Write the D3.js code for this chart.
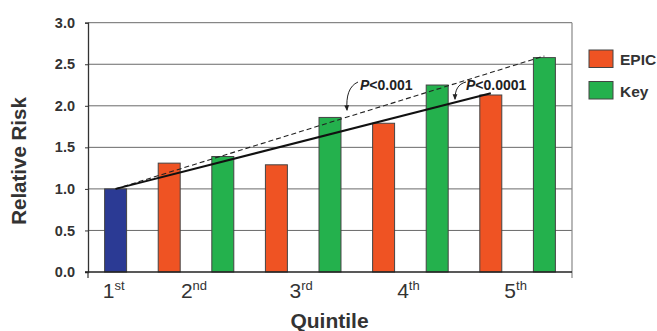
<!DOCTYPE html>
<html><head><meta charset="utf-8">
<script src="https://cdn.jsdelivr.net/npm/d3@7"></script>
<style>body{margin:0;background:#fff}svg{display:block}text{font-family:"Liberation Sans",Arial,sans-serif}</style>
</head><body><svg id="c" width="657" height="331"></svg>
<script>
// Data
const quintiles = ["1", "2", "3", "4", "5"];
const quintileSuffix = ["st", "nd", "rd", "th", "th"];
const barIds = ["Q1", "Q2-EPIC", "Q2-Key", "Q3-EPIC", "Q3-Key", "Q4-EPIC", "Q4-Key", "Q5-EPIC", "Q5-Key"];
const barQuintile = [0, 1, 1, 2, 2, 3, 3, 4, 4];
const barStudy = ["Ref", "EPIC", "Key", "EPIC", "Key", "EPIC", "Key", "EPIC", "Key"];
const barValues = [1.0, 1.31, 1.39, 1.29, 1.86, 1.79, 2.25, 2.13, 2.58];
const yTicks = [0, 0.5, 1.0, 1.5, 2.0, 2.5, 3.0];
const epicTrend = [{bar: "Q1", v: 1.0}, {bar: "Q5-EPIC", v: 2.15}];
const keyTrend = [{bar: "Q1", v: 1.0}, {bar: "Q5-Key", v: 2.6}];
const legendItems = ["EPIC", "Key"];
const pLabels = ["<0.001", "<0.0001"];

const colors = {Ref: "#2B3A94", EPIC: "#EF5323", Key: "#24B14D"};

const svg = d3.select("#c");
const L = 88, R = 572, T = 22.7, B = 272;
const x = d3.scaleBand().domain(barIds).range([L, R]).paddingInner(0.59).paddingOuter(0.31);
const y = d3.scaleLinear().domain([0, 3]).range([B, T]);

// gridlines
svg.append("g").selectAll("line").data(yTicks.filter(d => d > 0)).join("line")
  .attr("x1", L).attr("x2", R).attr("y1", d => y(d)).attr("y2", d => y(d))
  .attr("stroke", "#6a6a6a").attr("stroke-width", 1);
// right border
svg.append("line").attr("x1", R).attr("x2", R).attr("y1", T).attr("y2", B + 6)
  .attr("stroke", "#888").attr("stroke-width", 1.2);

// bars
svg.append("g").selectAll("rect").data(barIds).join("rect")
  .attr("x", d => x(d)).attr("width", x.bandwidth())
  .attr("y", (d, i) => y(barValues[i])).attr("height", (d, i) => y(0) - y(barValues[i]))
  .attr("fill", (d, i) => colors[barStudy[i]])
  .attr("stroke", "#444").attr("stroke-width", 1);

// axes
const yAxis = svg.append("g").attr("transform", `translate(${L},0)`)
  .call(d3.axisLeft(y).tickValues(yTicks).tickFormat(d3.format(".1f")).tickSize(3).tickPadding(10));
yAxis.select(".domain").attr("stroke", "#333").attr("stroke-width", 1.3);
yAxis.selectAll(".tick line").attr("stroke", "#333");
yAxis.selectAll("text").attr("font-size", 14.5).attr("font-weight", "bold").attr("fill", "#333")
  .attr("font-family", "Liberation Sans, Arial, sans-serif");

svg.append("line").attr("x1", L - 3).attr("x2", R).attr("y1", B).attr("y2", B)
  .attr("stroke", "#222").attr("stroke-width", 1.5);
svg.append("line").attr("x1", L).attr("x2", L).attr("y1", B).attr("y2", B + 6)
  .attr("stroke", "#333").attr("stroke-width", 1.2);

// x labels (quintile) centered between bar pairs
const qCenter = q => {
  const ids = barIds.filter((d, i) => barQuintile[i] === q);
  const a = x(ids[0]), b = x(ids[ids.length - 1]) + x.bandwidth();
  return (a + b) / 2;
};
const xl = svg.append("g").selectAll("text").data(quintiles).join("text")
  .attr("x", (d, i) => qCenter(i) - 2).attr("y", 298).attr("text-anchor", "middle")
  .attr("font-size", 21).attr("fill", "#333");
xl.append("tspan").text(d => d);
xl.append("tspan").attr("font-size", 13).attr("dy", -8).text((d, i) => quintileSuffix[i]);

// axis titles
svg.append("text").attr("x", 329.5).attr("y", 328).attr("text-anchor", "middle")
  .attr("font-size", 21).attr("font-weight", "bold").attr("fill", "#333").text("Quintile");
svg.append("text").attr("transform", "translate(26,161) rotate(-90)").attr("text-anchor", "middle")
  .attr("font-size", 20.5).attr("font-weight", "bold").attr("fill", "#333").text("Relative Risk");

// trend lines
const cx = id => x(id) + x.bandwidth() / 2;
const line = d3.line().x(d => cx(d.bar)).y(d => y(d.v));
svg.append("path").datum(keyTrend).attr("d", line).attr("fill", "none")
  .attr("stroke", "#222").attr("stroke-width", 1.1).attr("stroke-dasharray", "5,3");
svg.append("path").datum(epicTrend).attr("d", line).attr("fill", "none")
  .attr("stroke", "#111").attr("stroke-width", 2);

// p-value annotations
const defs = svg.append("defs");
defs.append("marker").attr("id", "ah").attr("viewBox", "0 0 10 10").attr("refX", 8).attr("refY", 5)
  .attr("markerWidth", 6).attr("markerHeight", 6).attr("orient", "auto")
  .append("path").attr("d", "M0,1 L10,5 L0,9 Z").attr("fill", "#222");

function pLabel(px, py, txt) {
  const t = svg.append("text").attr("x", px).attr("y", py).attr("font-size", 14)
    .attr("font-weight", "bold").attr("fill", "#222");
  t.append("tspan").attr("font-style", "italic").text("P");
  t.append("tspan").text(txt);
}
pLabel(360, 90, pLabels[0]);
pLabel(466, 90, pLabels[1]);
svg.append("path").attr("d", "M358,82 C349,86 346,96 347,110").attr("fill", "none")
  .attr("stroke", "#222").attr("stroke-width", 1).attr("marker-end", "url(#ah)");
svg.append("path").attr("d", "M466,82 C458,84 455,90 455,99").attr("fill", "none")
  .attr("stroke", "#222").attr("stroke-width", 1).attr("marker-end", "url(#ah)");

// legend
const lg = svg.append("g").selectAll("g").data(legendItems).join("g")
  .attr("transform", (d, i) => `translate(589,${50 + i * 31.5})`);
lg.append("rect").attr("width", 24).attr("height", 17.5)
  .attr("fill", d => colors[d]).attr("stroke", "#444").attr("stroke-width", 1);
lg.append("text").attr("x", 31).attr("y", 15).attr("font-size", 15.5).attr("font-weight", "bold")
  .attr("fill", "#333").text(d => d);
</script></body></html>
